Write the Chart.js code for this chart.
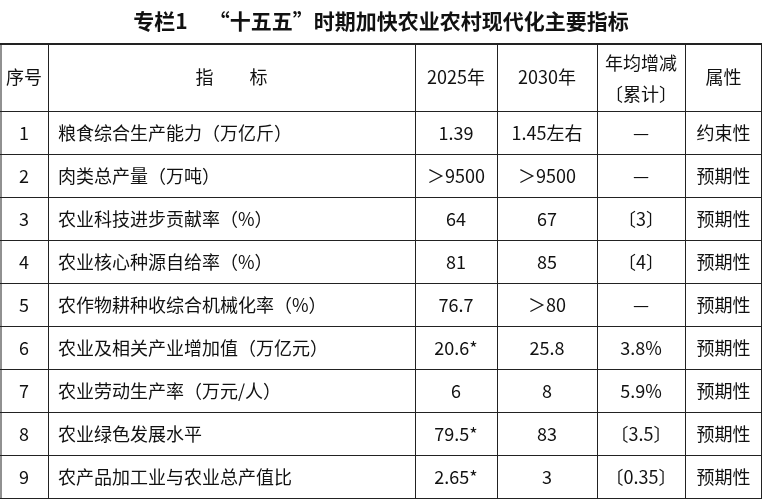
<!DOCTYPE html>
<html><head><meta charset="utf-8">
<script src="https://cdn.jsdelivr.net/npm/chart.js@4"></script>
<style>html,body{margin:0;padding:0;background:#fff}</style>
</head><body>
<canvas id="c" width="762" height="499"></canvas>
<script>
// Table data
const title = '专栏1　“十五五”时期加快农业农村现代化主要指标';
const headers = ['序号', '指　　标', '2025年', '2030年', '年均增减|〔累计〕', '属性'];
const seqNo = ['1', '2', '3', '4', '5', '6', '7', '8', '9'];
const indicators = ['粮食综合生产能力（万亿斤）', '肉类总产量（万吨）', '农业科技进步贡献率（%）', '农业核心种源自给率（%）', '农作物耕种收综合机械化率（%）', '农业及相关产业增加值（万亿元）', '农业劳动生产率（万元/人）', '农业绿色发展水平', '农产品加工业与农业总产值比'];
const v2025 = ['1.39', '＞9500', '64', '81', '76.7', '20.6*', '6', '79.5*', '2.65*'];
const v2030 = ['1.45左右', '＞9500', '67', '85', '＞80', '25.8', '8', '83', '3'];
const change = ['—', '—', '〔3〕', '〔4〕', '—', '3.8%', '5.9%', '〔3.5〕', '〔0.35〕'];
const nature = ['约束性', '预期性', '预期性', '预期性', '预期性', '预期性', '预期性', '预期性', '预期性'];

// layout in value units of the hidden scales (1 unit = 1 px)
const colEdges = [0, 48, 415, 497, 597, 685, 762];
const tableTop = 44, headerBottom = 111, rowH = 43;
const FONT = '"Noto Sans CJK SC", "Noto Sans", sans-serif';

const tablePlugin = {
  id: 'table',
  afterDraw(chart) {
    const ctx = chart.ctx, xs = chart.scales.x, ys = chart.scales.y;
    const X = v => xs.getPixelForValue(v), Y = v => ys.getPixelForValue(v);
    ctx.save();
    ctx.fillStyle = '#111';
    ctx.textAlign = 'center'; ctx.textBaseline = 'middle';
    ctx.font = 'bold 21px ' + FONT;
    ctx.fillText(title, X(381), Y(21));
    const bottom = headerBottom + rowH * seqNo.length;
    ctx.strokeStyle = '#222';
    // horizontal lines
    ctx.lineWidth = 2;
    ctx.beginPath(); ctx.moveTo(X(0), Y(tableTop)); ctx.lineTo(X(762), Y(tableTop)); ctx.stroke();
    ctx.lineWidth = 1;
    for (let i = 0; i <= seqNo.length; i++) {
      const y = Y(headerBottom + rowH * i) + 0.5;
      ctx.beginPath(); ctx.moveTo(X(0), y); ctx.lineTo(X(762), y); ctx.stroke();
    }
    colEdges.forEach(e => {
      const x = Math.min(Math.max(X(e), 0.5), 761) + 0.5;
      ctx.beginPath(); ctx.moveTo(x, Y(tableTop)); ctx.lineTo(x, Y(bottom)); ctx.stroke();
    });
    // header
    ctx.font = '18px ' + FONT;
    headers.forEach((h, i) => {
      const cx = X((colEdges[i] + colEdges[i + 1]) / 2);
      const parts = h.split('|');
      if (parts.length === 2) {
        ctx.fillText(parts[0], cx, Y(63)); ctx.fillText(parts[1], cx, Y(94));
      } else ctx.fillText(h, cx, Y((tableTop + headerBottom) / 2));
    });
    // rows
    const cols = [seqNo, indicators, v2025, v2030, change, nature];
    seqNo.forEach((_, r) => {
      const cy = Y(headerBottom + rowH * r + rowH / 2 + 1);
      cols.forEach((arr, c) => {
        if (c === 1) { ctx.textAlign = 'left'; ctx.fillText(arr[r], X(58), cy); ctx.textAlign = 'center'; }
        else ctx.fillText(arr[r], X((colEdges[c] + colEdges[c + 1]) / 2), cy);
      });
    });
    ctx.restore();
  }
};

new Chart(document.getElementById('c'), {
  type: 'bar',
  data: { labels: seqNo, datasets: [{ data: [] }] },
  options: {
    responsive: false, animation: false,
    layout: { padding: 0 },
    plugins: { legend: { display: false }, tooltip: { enabled: false } },
    scales: {
      x: { type: 'linear', min: 0, max: 762, offset: false, display: false },
      y: { type: 'linear', min: 0, max: 499, offset: false, reverse: true, display: false }
    }
  },
  plugins: [tablePlugin]
});
</script>
</body></html>
